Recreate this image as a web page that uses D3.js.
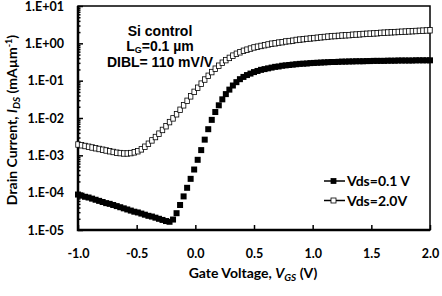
<!DOCTYPE html>
<head>
  <meta charset="utf-8">
  <script src="https://d3js.org/d3.v7.min.js"></script>
  <style>
    body { margin:0; background:#fff; }
    .tick text { font-family: Lato, sans-serif; font-weight: bold; font-size: 12.5px; fill:#000; }
    .tick line { stroke:#000; stroke-width:1.5px; }
    .title { font-family: Lato, sans-serif; font-weight: bold; font-size: 14px; }
    .note { font-family: "Liberation Sans", Arial, sans-serif; font-weight: bold; font-size: 14px; }
    .legend { font-family: Lato, sans-serif; font-weight: bold; font-size: 14px; }
  </style>
</head>
<body>
  <div class="chart"></div>
  <script>
    // gate sweep (V)
    const vgs = [-1.00,-0.97,-0.94,-0.91,-0.88,-0.85,-0.82,-0.79,-0.76,-0.73,
      -0.70,-0.67,-0.64,-0.61,-0.58,-0.55,-0.52,-0.49,-0.46,-0.43,
      -0.40,-0.37,-0.34,-0.31,-0.28,-0.25,-0.22,-0.19,-0.16,-0.13,
      -0.10,-0.07,-0.04,-0.01,0.02,0.05,0.08,0.11,0.14,0.17,
      0.20,0.23,0.26,0.29,0.32,0.35,0.38,0.41,0.44,0.47,
      0.50,0.53,0.56,0.59,0.62,0.65,0.68,0.71,0.74,0.77,
      0.80,0.83,0.86,0.89,0.92,0.95,0.98,1.01,1.04,1.07,
      1.10,1.13,1.16,1.19,1.22,1.25,1.28,1.31,1.34,1.37,
      1.40,1.43,1.46,1.49,1.52,1.55,1.58,1.61,1.64,1.67,
      1.70,1.73,1.76,1.79,1.82,1.85,1.88,1.91,1.94,1.97,2.00];

    // log10 of drain current (mA/um), Vds = 0.1 V
    const logIdsLin = [-4.05,-4.08,-4.11,-4.13,-4.16,-4.19,-4.22,-4.25,-4.28,-4.30,
      -4.33,-4.36,-4.39,-4.42,-4.45,-4.48,-4.51,-4.53,-4.56,-4.59,
      -4.62,-4.64,-4.67,-4.70,-4.73,-4.76,-4.78,-4.72,-4.55,-4.33,
      -4.10,-3.87,-3.63,-3.38,-3.12,-2.86,-2.58,-2.30,-2.05,-1.84,
      -1.66,-1.50,-1.36,-1.24,-1.13,-1.04,-0.96,-0.90,-0.85,-0.81,
      -0.77,-0.74,-0.71,-0.69,-0.67,-0.65,-0.63,-0.62,-0.60,-0.59,
      -0.58,-0.57,-0.56,-0.55,-0.545,-0.54,-0.53,-0.525,-0.52,-0.515,
      -0.51,-0.505,-0.50,-0.50,-0.495,-0.49,-0.49,-0.485,-0.485,-0.48,
      -0.48,-0.48,-0.475,-0.475,-0.47,-0.47,-0.47,-0.47,-0.465,-0.465,
      -0.465,-0.46,-0.46,-0.46,-0.46,-0.46,-0.455,-0.455,-0.455,-0.455,-0.455];

    // log10 of drain current (mA/um), Vds = 2.0 V
    const logIdsSat = [-2.71,-2.73,-2.75,-2.77,-2.79,-2.81,-2.83,-2.85,-2.87,-2.89,
      -2.91,-2.93,-2.94,-2.95,-2.95,-2.94,-2.92,-2.89,-2.84,-2.77,
      -2.69,-2.60,-2.51,-2.42,-2.32,-2.22,-2.11,-2.01,-1.90,-1.78,
      -1.66,-1.54,-1.42,-1.30,-1.19,-1.08,-0.97,-0.87,-0.77,-0.68,
      -0.60,-0.52,-0.45,-0.39,-0.33,-0.28,-0.24,-0.20,-0.17,-0.14,
      -0.11,-0.09,-0.07,-0.05,-0.03,-0.01,0.00,0.02,0.03,0.05,
      0.06,0.07,0.09,0.10,0.11,0.12,0.13,0.14,0.15,0.16,
      0.17,0.18,0.19,0.195,0.20,0.21,0.215,0.22,0.23,0.235,
      0.24,0.25,0.255,0.26,0.265,0.27,0.28,0.285,0.29,0.295,
      0.30,0.305,0.31,0.315,0.32,0.325,0.33,0.335,0.34,0.345,0.35];

    const xTicks = [-1.0, -0.5, 0.0, 0.5, 1.0, 1.5, 2.0];
    const yTicks = [1e-5, 1e-4, 1e-3, 1e-2, 1e-1, 1e0, 1e1];
    const legendLabels = ["Vds=0.1 V", "Vds=2.0V"];

    const W = 442, H = 296;
    const L = 78, R = 430, T = 6, B = 230;

    const svg = d3.select(".chart").append("svg")
      .attr("width", W).attr("height", H);

    const x = d3.scaleLinear().domain([-1, 2]).range([L, R]);
    const y = d3.scaleLog().domain([1e-5, 1e1]).range([B, T]);

    // minor ticks on the log axis
    var minor = [];
    for (var e = -5; e < 1; e++) {
      for (var m = 2; m <= 9; m++) minor.push(m * Math.pow(10, e));
    }

    function expLabel(d) {
      var p = Math.round(Math.log10(d));
      return "1.E" + (p >= 0 ? "+" : "-") + String(Math.abs(p)).padStart(2, "0");
    }

    svg.append("g")
      .attr("transform", "translate(" + L + ",0)")
      .call(d3.axisLeft(y).tickValues(minor).tickSize(-2.5).tickFormat(""))
      .call(g => g.select(".domain").remove());

    svg.append("g")
      .attr("transform", "translate(" + L + ",0)")
      .call(d3.axisLeft(y).tickValues(yTicks).tickSize(-5).tickPadding(14).tickFormat(expLabel))
      .call(g => g.select(".domain").remove());

    svg.append("g")
      .attr("transform", "translate(0," + B + ")")
      .call(d3.axisBottom(x).tickValues(xTicks).tickSize(-5).tickPadding(19).tickFormat(d => d.toFixed(1)))
      .call(g => g.select(".domain").remove());

    // frame
    svg.append("rect")
      .attr("x", L).attr("y", T).attr("width", R - L).attr("height", B - T)
      .attr("fill", "none").attr("stroke", "#000").attr("stroke-width", 1.5);
    svg.append("path")
      .attr("d", "M" + L + "," + T + "V" + B + "H" + R)
      .attr("fill", "none").attr("stroke", "#000").attr("stroke-width", 2.5);

    const pts = (arr) => vgs.map((v, i) => ({v: v, i: Math.pow(10, arr[i])}));

    // Vds = 2.0 V, open squares
    svg.append("g").selectAll("rect")
      .data(pts(logIdsSat)).join("rect")
      .attr("x", d => x(d.v) - 2.25).attr("y", d => y(d.i) - 2.75)
      .attr("width", 4.5).attr("height", 5.5)
      .attr("fill", "#fff").attr("stroke", "#000").attr("stroke-width", 0.8);

    // Vds = 0.1 V, filled squares
    svg.append("g").selectAll("rect")
      .data(pts(logIdsLin)).join("rect")
      .attr("x", d => x(d.v) - 3).attr("y", d => y(d.i) - 3)
      .attr("width", 6).attr("height", 6)
      .attr("fill", "#000");

    // annotation
    const note = svg.append("text").attr("class", "note").attr("text-anchor", "middle");
    note.append("tspan").attr("x", 160).attr("y", 36).text("Si control");
    const lg = note.append("tspan").attr("x", 160).attr("y", 51);
    lg.append("tspan").text("L");
    lg.append("tspan").attr("font-size", "9px").attr("dy", 2).text("G");
    lg.append("tspan").attr("dy", -2).text("=0.1 µm");
    note.append("tspan").attr("x", 160).attr("y", 67).text("DIBL= 110 mV/V");

    // legend
    legendLabels.forEach(function(lab, k) {
      var ly = 181 + k * 19.5;
      var g = svg.append("g");
      g.append("line").attr("x1", 324).attr("x2", 345).attr("y1", ly).attr("y2", ly)
        .attr("stroke", "#000").attr("stroke-width", 1.5);
      g.append("rect").attr("x", 331).attr("y", ly - 2.5).attr("width", 5).attr("height", 5)
        .attr("fill", k === 0 ? "#000" : "#fff").attr("stroke", "#000").attr("stroke-width", 0.8);
      g.append("text").attr("class", "legend").attr("x", 347).attr("y", ly + 5).text(lab);
    });

    // axis titles
    const xt = svg.append("text").attr("class", "title")
      .attr("x", 253).attr("y", 278).attr("text-anchor", "middle");
    xt.append("tspan").text("Gate Voltage, ");
    xt.append("tspan").attr("font-style", "italic").text("V");
    xt.append("tspan").attr("font-style", "italic").attr("font-size", "10px").attr("dy", 3).text("GS");
    xt.append("tspan").attr("dy", -3).text(" (V)");

    const yt = svg.append("text").attr("class", "title")
      .attr("transform", "translate(17,120) rotate(-90)").attr("text-anchor", "middle");
    yt.append("tspan").text("Drain Current, ");
    yt.append("tspan").attr("font-style", "italic").text("I");
    yt.append("tspan").attr("font-style", "italic").attr("font-size", "10px").attr("dy", 3).text("DS");
    yt.append("tspan").attr("dy", -3).text(" (mAµm");
    yt.append("tspan").attr("font-size", "9px").attr("dy", -5).text("-1");
    yt.append("tspan").attr("dy", 5).text(")");
  </script>
</body>
